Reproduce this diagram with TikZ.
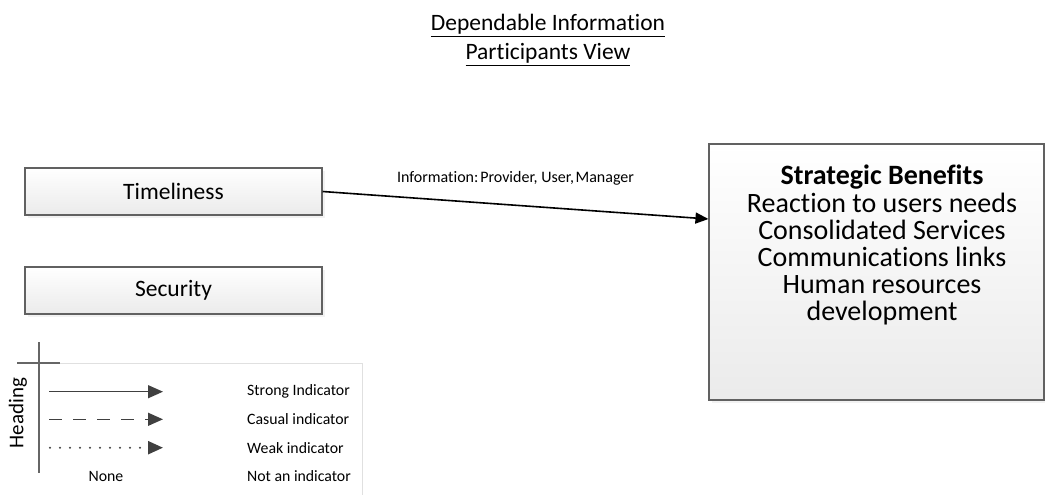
\documentclass[tikz,border=0pt]{standalone}
\usepackage{fontspec}
\setmainfont{Carlito}[Ligatures={NoCommon,NoContextual}]
\usetikzlibrary{arrows.meta,shadows}

\begin{document}
\begin{tikzpicture}[x=1pt,y=-1pt,
  box/.style={draw=black!62, line width=1.1pt, top color=white, bottom color=black!8,
    inner sep=0pt, drop shadow={shadow xshift=2.5pt, shadow yshift=-3pt, fill=black!10}},
  boxtext/.style={font=\fontsize{23.5}{28}\selectfont},
  conn/.style={line width=1.6pt, -{Triangle[length=13pt,width=11pt]}},
  key/.style={draw=black!75, line width=1.3pt, -{Triangle[length=15pt,width=13pt]}},
  keytext/.style={font=\fontsize{15.8}{19}\selectfont, inner sep=0pt, anchor=west},
  frame/.style={draw=black!12, line width=1pt}]

\useasboundingbox (0,0) rectangle (1045,495);

% title
\node[font=\fontsize{23.5}{29}\selectfont, align=center, inner sep=0pt, anchor=north] (title)
  at (548,14) {\underline{Dependable Information}\\\underline{Participants View}};

% factor boxes
\node[box, boxtext, minimum width=297pt, minimum height=47pt] (time) at (173.5,191.5) {Timeliness};
\node[box, boxtext, minimum width=297pt, minimum height=47pt] (sec) at (173.5,290.5) {Security};

% benefits box
\node[box, minimum width=335pt, minimum height=256pt] (sb) at (876.5,272) {};
\node[font=\fontsize{28}{27.2}\selectfont, align=center, inner sep=0pt, anchor=north] (sbtext)
  at (882,165) {\textbf{Strategic Benefits}\\Reaction to users needs\\Consolidated Services\\Communications links\\Human resources\\development};

% connector
\draw[conn] (time.east) -- ([yshift=53pt]sb.west)
  node[pos=0.5, yshift=27pt, font=\fontsize{16}{19}\selectfont, inner sep=0pt] (lbl)
  {Information:\hspace{0.12em}Provider, User,\hspace{0.1em}Manager};

% legend
\draw[frame] (39,363) -- (362,363) -- (362,500);
\draw[black!60, line width=1.1pt] (39,342) -- (39,473);
\draw[black!60, line width=1.1pt] (17,363) -- (60,363);
\node[rotate=90, font=\fontsize{21}{24}\selectfont, inner sep=0pt] (heading) at (18,413) {Heading};

\coordinate (s1) at (49,391.7);  \coordinate (s2) at (163,391.7);
\coordinate (c1) at (49,419.3);  \coordinate (c2) at (163,419.3);
\coordinate (w1) at (50,447.7);  \coordinate (w2) at (163,447.7);
\draw[key] (s1) -- (s2);
\draw[key, dash pattern=on 13pt off 11pt] (c1) -- (c2);
\draw[key, line cap=round, line width=2.2pt, dash pattern=on 0pt off 10pt] (w1) -- (w2);

\node[keytext] (kstrong) at (247,391.7) {Strong Indicator};
\node[keytext] (kcasual) at (247,419.3) {Casual indicator};
\node[keytext] (kweak) at (247,447.7) {Weak indicator};
\node[keytext] (knot) at (247,476) {Not an indicator};
\node[keytext, anchor=center] (knone) at (106,476) {None};
\end{tikzpicture}
\end{document}
